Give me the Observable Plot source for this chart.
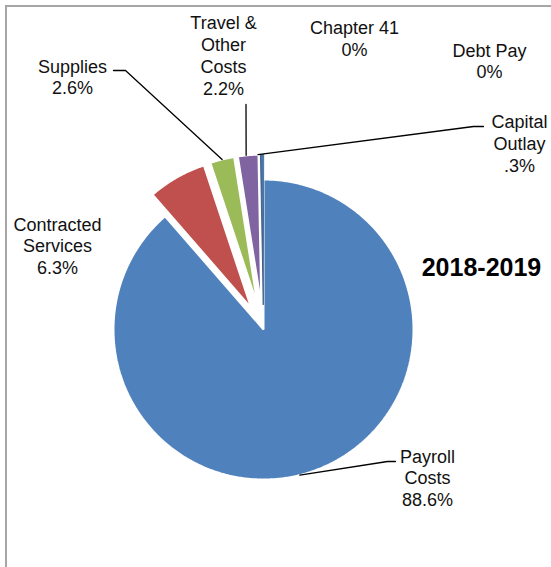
<!DOCTYPE html>
<html>
<head>
<meta charset="utf-8">
<script src="https://cdn.jsdelivr.net/npm/d3@7"></script>
<script src="https://cdn.jsdelivr.net/npm/@observablehq/plot@0.6"></script>
<style>
  html, body { margin: 0; padding: 0; background: #fff; overflow: hidden; }
  #wrap { position: relative; width: 551px; height: 567px; }
  #frame { position: absolute; left: 5px; top: 5px; width: 600px; height: 600px;
           border-left: 2px solid #a6a6a6; border-top: 2px solid #a6a6a6; pointer-events: none; }
  #chart { position: absolute; left: 0; top: 0; }
</style>
</head>
<body>
<div id="wrap"><div id="chart"></div><div id="frame"></div></div>
<script>
// ---- data ----
const categories = ["Payroll Costs", "Contracted Services", "Supplies", "Travel & Other Costs", "Chapter 41", "Debt Pay", "Capital Outlay"];
const shares = [88.6, 6.3, 2.6, 2.2, 0, 0, 0.3];
const shareLabels = ["88.6%", "6.3%", "2.6%", "2.2%", "0%", "0%", ".3%"];
const nameLines = [["Payroll", "Costs"], ["Contracted", "Services"], ["Supplies"], ["Travel &", "Other", "Costs"], ["Chapter 41"], ["Debt Pay"], ["Capital", "Outlay"]];
const exploded = [false, true, true, true, true, true, true];
const colors = ["#4F81BD", "#C0504D", "#9BBB59", "#8064A2", "#4BACC6", "#F79646", "#4677B3"];
const title = "2018-2019";

// ---- layout (pixels) ----
const W = 551, H = 567;
const pieLayout = {cx: 263, cy: 329, r: 150, explode: 25};
const labelPos = {
  "Payroll Costs": [427, 477],
  "Contracted Services": [57, 245],
  "Supplies": [72, 76],
  "Travel & Other Costs": [223, 54.5],
  "Chapter 41": [354, 37.5],
  "Debt Pay": [489, 60],
  "Capital Outlay": [519, 142.5]
};
const leaderElbows = {
  "Payroll Costs": [[395, 461], [387, 461]],
  "Supplies": [[113, 70], [125, 70]],
  "Travel & Other Costs": [[245.5, 104]],
  "Capital Outlay": [[483, 126], [473, 126]]
};
const leaderAngleOverride = {"Payroll Costs": 166, "Travel & Other Costs": 354.2, "Capital Outlay": 358};
const titlePos = [481, 267];
const thinSlices = ["Capital Outlay"];

// ---- geometry from data ----
const rows = categories.map((name, i) => ({name, share: shares[i], label: shareLabels[i], lines: nameLines[i], exploded: exploded[i]}));
const arcs = d3.pie().sort(null).value(d => d.share)(rows);

function sliceCenter(a) {
  const mid = (a.startAngle + a.endAngle) / 2;
  const off = a.data.exploded ? pieLayout.explode : 0;
  return [pieLayout.cx + off * Math.sin(mid), pieLayout.cy - off * Math.cos(mid)];
}

const slicePts = [];
for (const a of arcs) {
  if (a.endAngle - a.startAngle <= 0) continue;
  const [cx, cy] = sliceCenter(a);
  slicePts.push({name: a.data.name, x: cx, y: cy});
  const n = Math.max(2, Math.ceil((a.endAngle - a.startAngle) / (Math.PI / 360)));
  for (let k = 0; k <= n; k++) {
    const t = a.startAngle + (a.endAngle - a.startAngle) * k / n;
    slicePts.push({name: a.data.name, x: cx + pieLayout.r * Math.sin(t), y: cy - pieLayout.r * Math.cos(t)});
  }
}

const leaderPts = [];
for (const a of arcs) {
  const name = a.data.name;
  if (!leaderElbows[name]) continue;
  const [cx, cy] = sliceCenter(a);
  const ang = leaderAngleOverride[name] != null ? leaderAngleOverride[name] * Math.PI / 180 : (a.startAngle + a.endAngle) / 2;
  const pts = [...leaderElbows[name], [cx + pieLayout.r * Math.sin(ang), cy - pieLayout.r * Math.cos(ang)]];
  for (const [x, y] of pts) leaderPts.push({name, x, y});
}

const labelRows = rows.map(d => ({
  name: d.name,
  x: labelPos[d.name][0],
  y: labelPos[d.name][1],
  text: [...d.lines, d.label].join("\n")
}));

const font = "'Liberation Sans', Arial, Helvetica, sans-serif";

const chart = Plot.plot({
  width: W,
  height: H,
  margin: 0,
  style: {background: "transparent", fontFamily: font},
  x: {domain: [0, W], range: [0, W], axis: null},
  y: {domain: [0, H], range: [0, H], axis: null},
  color: {domain: categories, range: colors},
  marks: [
    Plot.line(slicePts.filter(d => !thinSlices.includes(d.name)), {x: "x", y: "y", z: "name", fill: "name", stroke: "white", strokeWidth: 2, strokeLinejoin: "miter", curve: "linear-closed"}),
    Plot.line(slicePts.filter(d => thinSlices.includes(d.name)), {x: "x", y: "y", z: "name", fill: "name", stroke: "#2C4D75", strokeWidth: 0.8, curve: "linear-closed"}),
    Plot.line(leaderPts, {x: "x", y: "y", z: "name", stroke: "#000", strokeWidth: 1.3}),
    Plot.text(labelRows, {x: "x", y: "y", text: "text", fontSize: 18, lineHeight: 1.21, lineAnchor: "middle", fill: "#111", fontFamily: font}),
    Plot.text([title], {x: () => titlePos[0], y: () => titlePos[1], text: d => d, fontSize: 25, fontWeight: "bold", fill: "#000", fontFamily: font})
  ]
});
document.getElementById("chart").appendChild(chart);
</script>
</body>
</html>
